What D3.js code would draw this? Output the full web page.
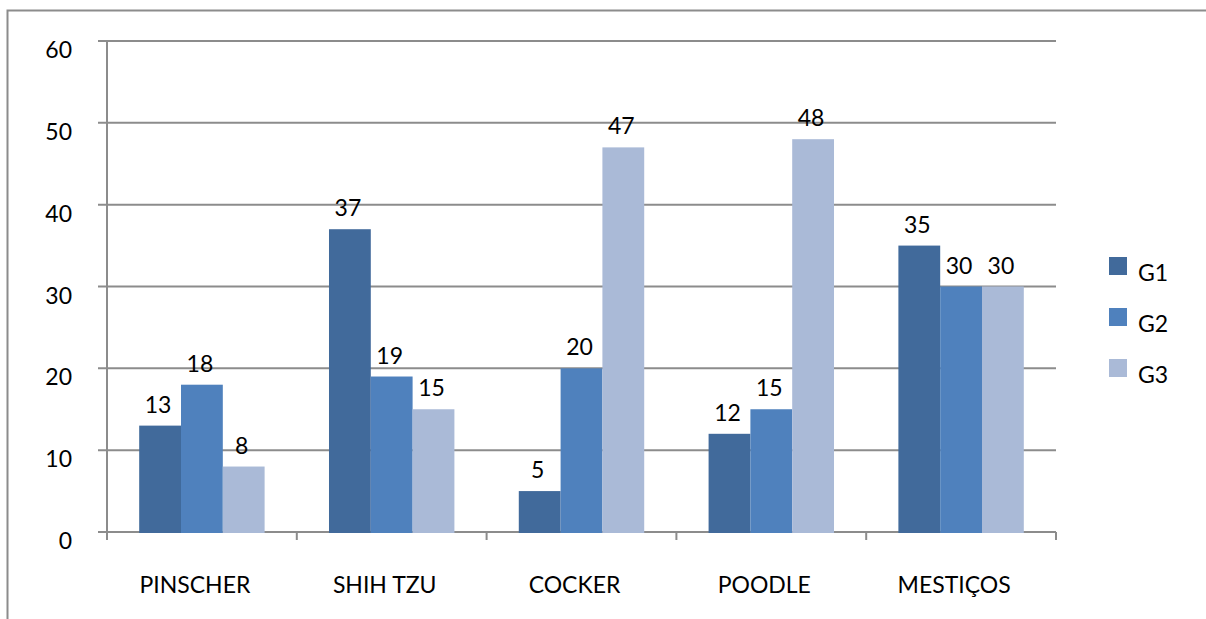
<!DOCTYPE html>
<html><head><meta charset="utf-8">
<script src="https://cdn.jsdelivr.net/npm/d3@7"></script>
<style>body{margin:0;background:#fff}svg{display:block}</style>
</head><body>
<script>
const categories = ["PINSCHER","SHIH TZU","COCKER","POODLE","MESTIÇOS"];
const seriesNames = ["G1","G2","G3"];
const g1 = [13,37,5,12,35];
const g2 = [18,19,20,15,30];
const g3 = [8,15,47,48,30];
const yTicks = [0,10,20,30,40,50,60];
const colors = ["#416A9B","#4F81BD","#AABAD7"];

(function(){
const W=1206,H=619;
const svg=d3.select("body").append("svg").attr("width",W).attr("height",H);
const font="Lato, 'Open Sans', sans-serif";
const fs=23;
// outer border
svg.append("rect").attr("x",7.5).attr("y",10.5).attr("width",1300).attr("height",700)
  .attr("fill","none").attr("stroke","#8c8c8c").attr("stroke-width",2);

const pl=107,pr=1056,pt=41,pb=532;
const x=d3.scaleBand().domain(categories).range([pl,pr]);
const xs=d3.scaleBand().domain(seriesNames).range([0,x.bandwidth()]).paddingOuter(0.77).paddingInner(0);
const y=d3.scaleLinear().domain([0,60]).range([pb,pt]);

// gridlines
svg.append("g").selectAll("line").data(yTicks).join("line")
  .attr("x1",pl-9).attr("x2",pr).attr("y1",d=>y(d)).attr("y2",d=>y(d))
  .attr("stroke","#8c8c8c").attr("stroke-width",2);
// y axis
svg.append("line").attr("x1",pl).attr("x2",pl).attr("y1",pt).attr("y2",pb+8)
  .attr("stroke","#8c8c8c").attr("stroke-width",2);
svg.append("g").selectAll("text").data(yTicks).join("text")
  .attr("x",72).attr("y",d=>y(d)+17).attr("text-anchor","end")
  .attr("font-family",font).attr("font-size",fs).attr("fill","#000").text(d=>d);
// x ticks
const xt=categories.map(c=>x(c)).concat([pr]);
svg.append("g").selectAll("line").data(xt).join("line")
  .attr("x1",d=>d).attr("x2",d=>d).attr("y1",pb).attr("y2",pb+8)
  .attr("stroke","#8c8c8c").attr("stroke-width",2);
svg.append("g").selectAll("text").data(categories).join("text")
  .attr("x",d=>x(d)+x.bandwidth()/2-7).attr("y",593).attr("text-anchor","middle")
  .attr("font-family",font).attr("font-size",fs).attr("fill","#000").text(d=>d);

const series=[g1,g2,g3];
series.forEach((vals,si)=>{
  const g=svg.append("g");
  g.selectAll("rect").data(vals).join("rect")
    .attr("x",(d,i)=>x(categories[i])+xs(seriesNames[si]))
    .attr("width",xs.bandwidth())
    .attr("y",d=>y(d)).attr("height",d=>y(0)-y(d)+1)
    .attr("fill",colors[si]);
  g.selectAll("text").data(vals).join("text")
    .attr("x",(d,i)=>x(categories[i])+xs(seriesNames[si])+xs.bandwidth()/2-2)
    .attr("y",d=>y(d)-13).attr("text-anchor","middle")
    .attr("font-family",font).attr("font-size",fs).attr("fill","#000").text(d=>d);
});

// legend
const lg=svg.append("g");
seriesNames.forEach((s,i)=>{
  lg.append("rect").attr("x",1109).attr("y",257+i*51).attr("width",18).attr("height",18).attr("fill",colors[i]);
  lg.append("text").attr("x",1138).attr("y",281+i*51).attr("font-family",font).attr("font-size",fs).attr("fill","#000").text(s);
});
})();
</script>
</body></html>
